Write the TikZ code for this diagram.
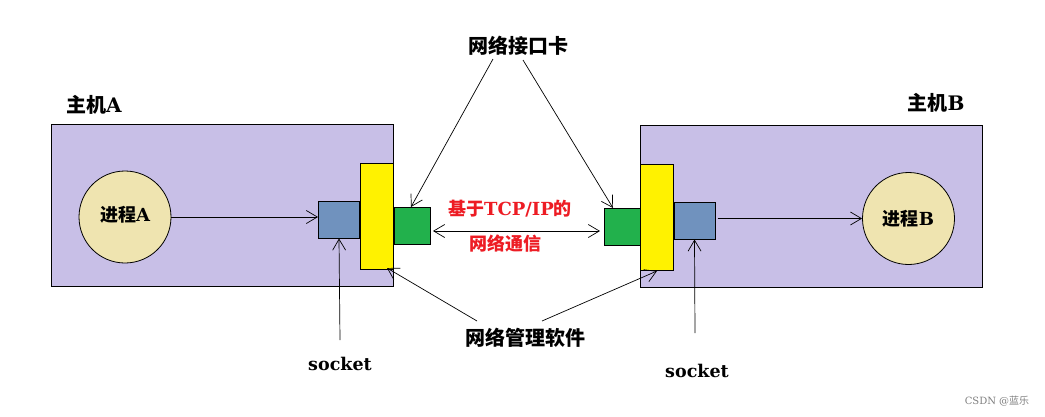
\documentclass[tikz,border=0pt]{standalone}
\usepackage{fontspec}
\setmainfont{DejaVu Serif}
\newfontfamily\cjk{Noto Sans CJK SC}
\usetikzlibrary{arrows.meta}
\definecolor{hostc}{RGB}{200,191,231}
\definecolor{procc}{RGB}{239,228,176}
\definecolor{sockc}{RGB}{112,146,190}
\definecolor{nicc}{RGB}{34,177,76}
\definecolor{softc}{RGB}{255,242,0}
\definecolor{redc}{RGB}{237,28,36}
\tikzset{
  host/.style={draw=black,line width=1pt,fill=hostc,rectangle,inner sep=0pt,minimum width=342pt,minimum height=162pt},
  soft/.style={draw=black,line width=1pt,fill=softc,rectangle,inner sep=0pt,minimum width=33pt,minimum height=106pt},
  sockbox/.style={draw=black,line width=1pt,fill=sockc,rectangle,inner sep=0pt,minimum width=41pt,minimum height=37pt},
  nicbox/.style={draw=black,line width=1pt,fill=nicc,rectangle,inner sep=0pt,minimum width=36pt,minimum height=37pt},
  proc/.style={draw=black,line width=0.8pt,fill=procc,circle,inner sep=0pt,minimum size=92pt,font=\fontsize{18}{21}\selectfont\bfseries},
  lbl/.style={font=\fontsize{20}{24}\selectfont\bfseries,inner sep=1pt},
  redlbl/.style={font=\fontsize{18}{21}\selectfont\bfseries,text=redc,inner sep=1pt},
  sockl/.style={font=\fontsize{17.5}{20}\selectfont\bfseries,inner sep=1pt},
  conn/.style={line width=0.7pt,-{Straight Barb[length=11pt,width=13pt]}},
}
\begin{document}
\begin{tikzpicture}[x=1pt,y=-1pt]
\useasboundingbox (0,0) rectangle (1045,416);
\fill[white] (0,0) rectangle (1045,416);
% hosts
\node[host] (hostA) at (222,205) {};
\node[host] (hostB) at (811,206) {};
% software
\node[soft] (softA) at (376.5,216) {};
\node[soft] (softB) at (656.5,217) {};
% sockets
\node[sockbox] (sockA) at (339,219.5) {};
\node[sockbox] (sockB) at (694.5,220.5) {};
% NICs
\node[nicbox] (nicA) at (412,225.5) {};
\node[nicbox] (nicB) at (622,226.5) {};
% processes
\node[proc] (procA) at (125,217) {\raisebox{6pt}{{\cjk\bfseries 进程}A}};
\node[proc] (procB) at (908.5,218.5) {{\cjk\bfseries 进程}B};
% labels
\node[lbl] (lA) at (94,105) {{\cjk\bfseries 主机}A};
\node[lbl] (lB) at (936,103) {{\cjk\bfseries 主机}B};
\node[lbl] (nicl) at (518,46) {\cjk\bfseries 网络接口卡};
\node[lbl] (softl) at (525,338) {\cjk\bfseries 网络管理软件};
\node[redlbl] (tcp1) at (510,209) {{\cjk\bfseries 基于}TCP/IP{\cjk\bfseries 的}};
\node[redlbl] (tcp2) at (505,244) {\cjk\bfseries 网络通信};
\node[sockl] (sA) at (340,364) {socket};
\node[sockl] (sB) at (697,371) {socket};
\node[text=gray,font=\fontsize{10}{12}\selectfont,inner sep=0pt] (wm) at (997,401) {CSDN @{\cjk 蓝乐}};
% coordinates
\coordinate (nicAtop) at (411,207);
\coordinate (nicBtop) at (613,208);
\coordinate (nlL) at (493,59);
\coordinate (nlR) at (523,60);
\coordinate (slL) at (477,321);
\coordinate (slR) at (542,321);
\coordinate (softAend) at (387,268);
\coordinate (softBend) at (657,271);
\coordinate (sAtop) at (340,340);
\coordinate (sBtop) at (695,333);
% connectors
\draw[conn] (procA.east) -- (sockA.west |- procA.east);
\draw[conn] (sockB.east) ++(2,-2) -- (procB.west);
\draw[line width=0.7pt,{Straight Barb[length=11pt,width=13pt]}-{Straight Barb[length=11pt,width=13pt]}] (433,231) -- (600,231);
\draw[conn] (nlL) -- (nicAtop);
\draw[conn] (nlR) -- (nicBtop);
\draw[conn] (slL) -- (softAend);
\draw[conn] (slR) -- (softBend);
\draw[conn] (sAtop) -- (sockA.south);
\draw[conn] (sBtop) -- (sockB.south);
\end{tikzpicture}
\end{document}
